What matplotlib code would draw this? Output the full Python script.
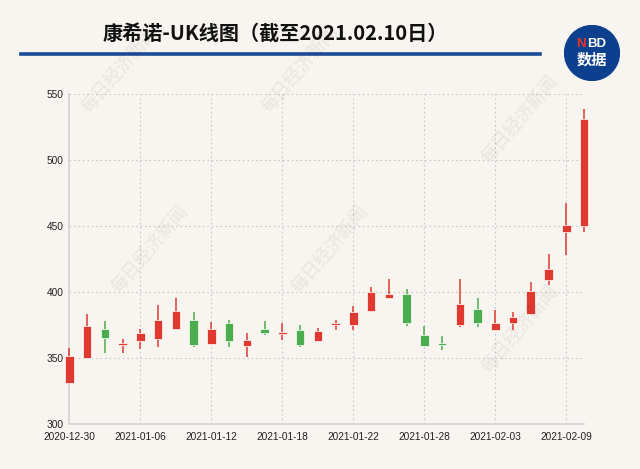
import numpy as np
import matplotlib.pyplot as plt
from matplotlib.patches import Circle

plt.rcParams['font.family'] = ['Liberation Sans', 'Noto Sans CJK SC', 'DejaVu Sans']

dates = ["2020-12-30", "2020-12-31", "2021-01-04", "2021-01-05", "2021-01-06",
         "2021-01-07", "2021-01-08", "2021-01-11", "2021-01-12", "2021-01-13",
         "2021-01-14", "2021-01-15", "2021-01-18", "2021-01-19", "2021-01-20",
         "2021-01-21", "2021-01-22", "2021-01-25", "2021-01-26", "2021-01-27",
         "2021-01-28", "2021-01-29", "2021-02-01", "2021-02-02", "2021-02-03",
         "2021-02-04", "2021-02-05", "2021-02-08", "2021-02-09", "2021-02-10"]
opens = [330.5, 350, 371.8, 360, 363, 364.5, 372, 379, 360.5, 376.5,
         358.6, 372, 368, 371, 363, 375, 374.6, 385.3, 395, 398,
         367, 360.7, 374.6, 387.3, 370.8, 376, 383, 409, 445.3, 449.7]
highs = [357.5, 383.5, 377.5, 364, 372, 390, 395, 385, 377, 379,
         369, 378, 376.4, 374.6, 372.3, 379, 389, 404, 409.7, 402,
         374.4, 366.8, 409.7, 395, 386, 385, 407.6, 428.5, 467.4, 538.6]
lows = [330, 350, 353.5, 353.5, 357, 358, 372, 358, 360.5, 358,
        350.5, 367, 363.7, 358, 363, 371.3, 370.8, 385, 395, 374,
        358.6, 355.6, 373, 373.3, 370.8, 371.3, 383, 405, 428, 445.7]
closes = [351, 374, 365.2, 361.5, 369, 379, 385.5, 359.5, 372, 362.7,
          363.2, 369, 369.3, 359.5, 370, 376.4, 384.8, 400, 398, 376,
          358.6, 359.7, 390.6, 376.7, 376, 381, 400.8, 417, 450.3, 531]
yticks = [300, 350, 400, 450, 500, 550]

RED = "#e03a30"
GREEN = "#4cad4f"
BG = "#f8f5f0"

fig = plt.figure(figsize=(6.4, 4.69), dpi=100, facecolor=BG)
ax = fig.add_axes([69.3 / 640, 1 - 423.7 / 469, (584 - 69.3) / 640, (423.7 - 94) / 469])
ax.set_facecolor(BG)

x = np.arange(len(dates))
o = np.array(opens)
c = np.array(closes)
colors = [RED if cc >= oo else GREEN for oo, cc in zip(o, c)]
bottoms = np.minimum(o, c)
heights = np.maximum(np.abs(c - o), 1.2)

ax.vlines(x, lows, highs, colors=colors, linewidth=1.3, alpha=0.85, zorder=3, clip_on=False)
ax.bar(x, heights, bottom=bottoms, width=0.48, color=colors, edgecolor="white",
       linewidth=0.5, zorder=4, clip_on=False)

ax.set_xlim(0, len(dates) - 1)
ax.set_ylim(300, 550)
ticks = x[::4]
ax.set_xticks(ticks)
ax.set_xticklabels([dates[i] for i in ticks], fontsize=7.3, color="#222222")
ax.set_yticks(yticks)
ax.set_yticklabels([str(v) for v in yticks], fontsize=7.3, color="#222222")
ax.tick_params(length=0, pad=4)
ax.tick_params(axis="x", pad=6)

ax.grid(True, linestyle=(0, (1.5, 2.5)), color="#c8c8c8", linewidth=0.8, zorder=0)
for s in ["top", "right"]:
    ax.spines[s].set_visible(False)
for s in ["left", "bottom"]:
    ax.spines[s].set_color("#d4d4d4")
    ax.spines[s].set_linewidth(1.2)

# watermarks
for wx, wy in [(150, 250), (330, 250), (520, 120), (520, 330), (120, 70), (300, 70)]:
    fig.text(wx / 640, 1 - wy / 469, "每日经济新闻", rotation=50, fontsize=13,
             color="#000000", alpha=0.05, ha="center", va="center",
             family=["Noto Sans CJK SC"], weight="bold")

# title and rule
fig.text(275 / 640, 1 - 33 / 469, "康希诺-UK线图（截至2021.02.10日）", fontsize=14.5,
         ha="center", va="center", color="#111111",
         family=["Noto Sans CJK SC", "DejaVu Sans"], weight="bold")
fig.add_artist(plt.Line2D([21 / 640, 540 / 640], [1 - 54 / 469, 1 - 54 / 469],
                          color="#1c4a98", linewidth=2.6))

# logo
logo = fig.add_axes([(592 - 28) / 640, 1 - (53 + 28) / 469, 56 / 640, 56 / 469])
logo.set_xlim(-1, 1)
logo.set_ylim(-1, 1)
logo.set_aspect("equal")
logo.axis("off")
logo.add_patch(Circle((0, 0), 0.98, color="#0d3f8f"))
logo.text(-0.38, 0.32, "N", color="#e8332a", fontsize=9.5, weight="bold", ha="center", va="center")
logo.text(0.15, 0.32, "BD", color="white", fontsize=9.5, weight="bold", ha="center", va="center")
logo.text(0, -0.25, "数据", color="white", fontsize=11, weight="bold", ha="center", va="center",
          family=["Noto Sans CJK SC"])

fig.savefig("out.png", dpi=100, facecolor=BG)
